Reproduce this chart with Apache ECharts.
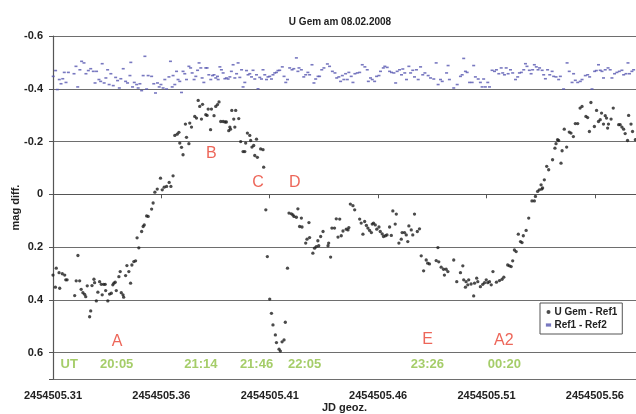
<!DOCTYPE html>
<html>
<head>
<meta charset="utf-8">
<script src="https://cdn.jsdelivr.net/npm/echarts@6/dist/echarts.min.js"></script>
<style>
html,body{margin:0;padding:0;background:#fff;}
#chart{width:636px;height:414px;}
</style>
</head>
<body>
<div id="chart"></div>
<script>
// ---- data ----
const JD0 = 2454505;
const titleText = 'U Gem am 08.02.2008';
const xName = 'JD geoz.';
const yName = 'mag diff.';
const seriesNames = ['U Gem - Ref1', 'Ref1 - Ref2'];

// U Gem - Ref1 (fraction of JD, magnitude difference)
const gemFrac = [
0.3100,0.3111,0.3115,0.3128,0.3131,0.3143,0.3154,0.3159,0.3165,0.3200,
0.3207,0.3215,0.3223,0.3230,0.3238,0.3246,0.3251,0.3258,0.3269,0.3274,
0.3280,0.3289,0.3292,0.3300,0.3307,0.3315,0.3323,0.3327,0.3334,0.3341,
0.3343,0.3353,0.3361,0.3369,0.3376,0.3381,0.3387,0.3392,0.3404,0.3410,
0.3415,0.3423,0.3426,0.3435,0.3441,0.3450,0.3458,0.3464,0.3473,0.3481,
0.3488,0.3496,0.3509,0.3516,0.3521,0.3532,0.3539,0.3555,0.3562,0.3570,
0.3581,0.3596,0.3604,0.3613,0.3624,0.3636,0.3644,0.3654,0.3662,0.3673,
0.3681,0.3685,0.3693,0.3700,0.3711,0.3716,0.3727,0.3731,0.3739,0.3754,
0.3762,0.3770,0.3777,0.3785,0.3790,0.3805,0.3811,0.3816,0.3827,0.3831,
0.3843,0.3851,0.3859,0.3866,0.3874,0.3885,0.3894,0.3900,0.3911,0.3916,
0.3919,0.3925,0.3934,0.3939,0.3943,0.3957,0.3966,0.3977,0.3985,0.3989,
0.3997,0.4008,0.4012,0.4018,0.4026,0.4031,0.4039,0.4043,0.4058,0.4069,
0.4072,0.4082,0.4089,0.4100,0.4108,0.4115,0.4126,0.4131,0.4143,0.4149,
0.4157,0.4166,0.4172,0.4182,0.4189,0.4200,0.4207,0.4212,0.4223,0.4230,
0.4238,0.4246,0.4249,0.4266,0.4272,0.4281,0.4284,0.4299,0.4307,0.4315,
0.4322,0.4326,0.4335,0.4346,0.4369,0.4372,0.4381,0.4387,0.4399,0.4407,
0.4415,0.4423,0.4430,0.4438,0.4453,0.4461,0.4465,0.4472,0.4484,0.4492,
0.4515,0.4522,0.4530,0.4538,0.4546,0.4553,0.4561,0.4569,0.4573,0.4579,
0.4587,0.4594,0.4604,0.4610,0.4619,0.4625,0.4634,0.4641,0.4653,0.4661,
0.4668,0.4679,0.4684,0.4696,0.4707,0.4711,0.4722,0.4730,0.4737,0.4742,
0.4753,0.4760,0.4768,0.4781,0.4791,0.4799,0.4810,0.4822,0.4829,0.4837,
0.4868,0.4876,0.4880,0.4891,0.4902,0.4906,0.4914,0.4922,0.4949,0.4963,
0.4980,0.4991,0.4995,0.5003,0.5006,0.5014,0.5018,0.5029,0.5041,0.5045,
0.5055,0.5060,0.5072,0.5083,0.5091,0.5099,0.5106,0.5114,0.5122,0.5130,
0.5146,0.5160,0.5172,0.5180,0.5198,0.5206,0.5214,0.5221,0.5229,0.5237,
0.5247,0.5257,0.5264,0.5270,0.5283,0.5295,0.5310,0.5321,0.5326,0.5336,
0.5344,0.5352,0.5355,0.5359,0.5367,0.5378,0.5387,0.5405,0.5416,0.5421,
0.5428,0.5433,0.5444,0.5449,0.5459,0.5470,0.5482,0.5490,0.5501,0.5510,
0.5521,0.5532,0.5541,0.5559,0.5567,0.5575,0.5582,0.5598,0.5608,0.5617,
0.5625,0.5631,0.5640,0.5648,0.5654,0.5659,0.5663,0.5675,0.5685,0.5710,
0.5717,0.5725,0.5733,0.5740,0.5751,0.5756,0.5767,0.5774,0.5787
];
const gemMag = [
0.306,0.352,0.280,0.297,0.356,0.301,0.306,0.324,0.324,0.384,
0.328,0.232,0.328,0.360,0.373,0.379,0.388,0.347,0.464,0.442,
0.346,0.322,0.335,0.404,0.371,0.331,0.341,0.381,0.341,0.341,
0.365,0.404,0.378,0.375,0.343,0.337,0.333,0.365,0.312,0.293,
0.373,0.381,0.390,0.308,0.270,0.293,0.337,0.268,0.255,0.252,
0.165,0.203,0.141,0.122,0.116,0.082,0.084,0.056,0.033,-0.008,
-0.020,-0.061,-0.017,-0.027,-0.030,-0.045,-0.030,-0.070,-0.223,-0.228,
-0.235,-0.194,-0.178,-0.150,-0.266,-0.216,-0.192,-0.270,-0.255,-0.295,
-0.289,-0.356,-0.333,-0.285,-0.341,-0.302,-0.299,-0.323,-0.245,-0.323,
-0.298,-0.333,-0.340,-0.350,-0.276,-0.276,-0.274,-0.274,-0.241,-0.255,
-0.247,-0.318,-0.285,-0.255,-0.318,-0.287,-0.200,-0.162,-0.162,-0.194,
-0.232,-0.223,-0.204,-0.179,-0.185,-0.147,-0.209,-0.140,-0.172,-0.169,
-0.103,0.059,0.236,0.397,0.451,0.495,0.533,0.562,0.587,0.594,
0.559,0.552,0.485,0.280,0.071,0.074,0.078,0.084,0.087,0.055,
0.122,0.090,0.124,0.185,0.170,0.107,0.164,0.223,0.204,0.198,
0.176,0.195,0.160,0.141,0.195,0.185,0.238,0.128,0.128,0.093,
0.162,0.094,0.157,0.139,0.132,0.135,0.126,0.037,0.043,0.059,
0.094,0.109,0.151,0.103,0.118,0.128,0.137,0.145,0.113,0.109,
0.116,0.132,0.124,0.141,0.150,0.160,0.157,0.154,0.124,0.156,
0.063,0.113,0.075,0.185,0.170,0.145,0.145,0.154,0.179,0.120,
0.135,0.154,0.075,0.141,0.131,0.233,0.290,0.249,0.261,0.264,
0.251,0.202,0.256,0.276,0.284,0.306,0.284,0.293,0.249,0.331,
0.297,0.271,0.324,0.352,0.331,0.343,0.324,0.340,0.385,0.337,
0.318,0.331,0.350,0.341,0.335,0.324,0.335,0.331,0.343,0.293,
0.333,0.327,0.322,0.314,0.268,0.271,0.274,0.252,0.211,0.217,
0.151,0.179,0.183,0.157,0.137,0.090,0.025,0.025,0.008,-0.011,
-0.017,-0.036,-0.020,-0.024,-0.055,-0.106,-0.093,-0.131,-0.175,-0.192,
-0.207,-0.204,-0.118,-0.165,-0.247,-0.179,-0.236,-0.232,-0.219,-0.268,
-0.268,-0.327,-0.333,-0.295,-0.291,-0.238,-0.348,-0.257,-0.318,-0.276,
-0.283,-0.308,-0.266,-0.298,-0.289,-0.251,-0.266,-0.285,-0.327,-0.264,
-0.264,-0.255,-0.247,-0.230,-0.204,-0.299,-0.266,-0.238,-0.207
];

// Ref1 - Ref2
const refFrac = [
0.3101,0.3112,0.3120,0.3129,0.3137,0.3145,0.3152,0.3160,0.3171,0.3197,
0.3206,0.3214,0.3224,0.3232,0.3243,0.3252,0.3263,0.3274,0.3286,0.3294,
0.3301,0.3312,0.3320,0.3327,0.3336,0.3344,0.3352,0.3359,0.3367,0.3378,
0.3389,0.3398,0.3406,0.3413,0.3424,0.3435,0.3444,0.3455,0.3459,0.3467,
0.3475,0.3486,0.3493,0.3501,0.3509,0.3516,0.3524,0.3532,0.3539,0.3555,
0.3565,0.3573,0.3582,0.3590,0.3598,0.3608,0.3616,0.3624,0.3635,0.3642,
0.3650,0.3654,0.3662,0.3670,0.3677,0.3685,0.3693,0.3700,0.3708,0.3716,
0.3727,0.3735,0.3742,0.3751,0.3759,0.3767,0.3774,0.3782,0.3788,0.3796,
0.3805,0.3811,0.3819,0.3828,0.3836,0.3843,0.3851,0.3859,0.3862,0.3870,
0.3877,0.3885,0.3893,0.3900,0.3908,0.3916,0.3923,0.3931,0.3939,0.3947,
0.3954,0.3962,0.3970,0.3977,0.3985,0.3993,0.4000,0.4008,0.4016,0.4023,
0.4031,0.4039,0.4046,0.4054,0.4062,0.4069,0.4077,0.4085,0.4092,0.4100,
0.4108,0.4115,0.4123,0.4131,0.4138,0.4146,0.4158,0.4166,0.4174,0.4182,
0.4192,0.4203,0.4211,0.4223,0.4230,0.4235,0.4246,0.4257,0.4266,0.4276,
0.4284,0.4295,0.4304,0.4312,0.4323,0.4330,0.4340,0.4350,0.4366,0.4376,
0.4389,0.4401,0.4409,0.4419,0.4427,0.4435,0.4442,0.4450,0.4458,0.4465,
0.4476,0.4484,0.4493,0.4504,0.4515,0.4527,0.4539,0.4550,0.4555,0.4565,
0.4573,0.4584,0.4593,0.4604,0.4611,0.4624,0.4631,0.4642,0.4653,0.4662,
0.4673,0.4681,0.4688,0.4699,0.4708,0.4714,0.4723,0.4731,0.4742,0.4750,
0.4760,0.4768,0.4777,0.4785,0.4796,0.4806,0.4816,0.4831,0.4842,0.4857,
0.4868,0.4877,0.4888,0.4896,0.4916,0.4923,0.4929,0.4949,0.4965,0.4980,
0.4988,0.4995,0.5003,0.5011,0.5022,0.5034,0.5041,0.5049,0.5062,0.5072,
0.5080,0.5087,0.5095,0.5106,0.5114,0.5126,0.5137,0.5146,0.5157,0.5168,
0.5175,0.5183,0.5191,0.5200,0.5211,0.5221,0.5234,0.5244,0.5252,0.5261,
0.5272,0.5280,0.5287,0.5298,0.5306,0.5313,0.5321,0.5330,0.5338,0.5345,
0.5357,0.5364,0.5372,0.5382,0.5392,0.5403,0.5410,0.5421,0.5433,0.5441,
0.5456,0.5472,0.5482,0.5495,0.5502,0.5510,0.5521,0.5533,0.5541,0.5556,
0.5567,0.5576,0.5587,0.5599,0.5607,0.5617,0.5625,0.5633,0.5640,0.5648,
0.5661,0.5671,0.5679,0.5691,0.5702,0.5713,0.5725,0.5733,0.5744,0.5753,
0.5760,0.5771,0.5779
];
const refMag = [
-0.447,-0.469,-0.397,-0.435,-0.419,-0.438,-0.462,-0.424,-0.462,-0.457,
-0.485,-0.407,-0.472,-0.504,-0.498,-0.457,-0.469,-0.476,-0.466,-0.422,
-0.466,-0.435,-0.428,-0.495,-0.422,-0.441,-0.472,-0.416,-0.457,-0.412,
-0.443,-0.431,-0.403,-0.438,-0.476,-0.428,-0.422,-0.450,-0.500,-0.407,
-0.424,-0.416,-0.403,-0.419,-0.393,-0.450,-0.523,-0.399,-0.450,-0.447,
-0.419,-0.384,-0.422,-0.407,-0.416,-0.403,-0.435,-0.399,-0.445,-0.504,
-0.407,-0.450,-0.416,-0.466,-0.435,-0.428,-0.386,-0.466,-0.457,-0.435,
-0.485,-0.479,-0.460,-0.435,-0.447,-0.470,-0.498,-0.479,-0.441,-0.424,
-0.479,-0.479,-0.453,-0.435,-0.450,-0.453,-0.441,-0.447,-0.435,-0.483,
-0.472,-0.460,-0.438,-0.441,-0.437,-0.445,-0.466,-0.491,-0.441,-0.457,
-0.498,-0.443,-0.472,-0.407,-0.424,-0.469,-0.453,-0.457,-0.445,-0.470,
-0.437,-0.453,-0.400,-0.443,-0.437,-0.472,-0.453,-0.435,-0.445,-0.447,
-0.437,-0.453,-0.460,-0.462,-0.469,-0.470,-0.483,-0.447,-0.424,-0.435,
-0.479,-0.472,-0.476,-0.517,-0.466,-0.479,-0.472,-0.445,-0.453,-0.462,
-0.453,-0.491,-0.422,-0.437,-0.447,-0.447,-0.472,-0.479,-0.494,-0.485,
-0.466,-0.460,-0.441,-0.445,-0.428,-0.450,-0.435,-0.457,-0.435,-0.462,
-0.447,-0.424,-0.457,-0.460,-0.462,-0.491,-0.483,-0.472,-0.428,-0.441,
-0.435,-0.428,-0.447,-0.450,-0.466,-0.479,-0.485,-0.481,-0.466,-0.462,
-0.460,-0.422,-0.466,-0.472,-0.453,-0.475,-0.460,-0.435,-0.485,-0.460,
-0.470,-0.445,-0.472,-0.435,-0.483,-0.453,-0.460,-0.450,-0.441,-0.437,
-0.498,-0.416,-0.435,-0.428,-0.460,-0.488,-0.435,-0.403,-0.416,-0.447,
-0.453,-0.515,-0.466,-0.462,-0.424,-0.424,-0.488,-0.445,-0.437,-0.424,
-0.407,-0.437,-0.407,-0.424,-0.407,-0.470,-0.466,-0.472,-0.457,-0.479,
-0.460,-0.453,-0.479,-0.457,-0.472,-0.460,-0.435,-0.445,-0.460,-0.462,
-0.472,-0.495,-0.485,-0.470,-0.457,-0.472,-0.491,-0.483,-0.472,-0.479,
-0.470,-0.453,-0.438,-0.472,-0.453,-0.466,-0.447,-0.445,-0.435,-0.447,
-0.399,-0.498,-0.466,-0.424,-0.457,-0.432,-0.424,-0.428,-0.435,-0.450,
-0.453,-0.445,-0.399,-0.466,-0.469,-0.491,-0.470,-0.466,-0.441,-0.472,
-0.479,-0.472,-0.441,-0.457,-0.462,-0.466,-0.470,-0.453,-0.457,-0.498,
-0.457,-0.466,-0.472
];

// phase letters (red) and UT times (green), anchored in data coordinates
const phaseText = ['A', 'B', 'C', 'D', 'E', 'A2'];
const phaseFrac = [0.3396, 0.3831, 0.4046, 0.4215, 0.4828, 0.5180];
const phaseMag  = [0.559, -0.156, -0.045, -0.045, 0.552, 0.555];
const timeText = ['UT', '20:05', '21:14', '21:46', '22:05', '23:26', '00:20'];
const timeFrac = [0.3175, 0.3394, 0.3782, 0.4039, 0.4261, 0.4827, 0.5183];
const timeMag  = [0.644, 0.644, 0.644, 0.644, 0.644, 0.644, 0.644];

// axis settings
const xMinFrac = 0.31, xMaxFrac = 0.579, xStep = 0.05;
const yMin = -0.6, yMax = 0.7, yStep = 0.2;

// ---- chart ----
const FONT = "'Liberation Sans', Arial, sans-serif";
const pts = (fr, mg) => fr.map((f, i) => [JD0 + f, mg[i]]);
const labelPts = (tx, fr, mg) => tx.map((t, i) => ({ name: t, value: [JD0 + fr[i], mg[i]] }));

const chart = echarts.init(document.getElementById('chart'), null, { renderer: 'canvas' });
chart.setOption({
  backgroundColor: '#ffffff',
  animation: false,
  textStyle: { fontFamily: FONT },
  title: {
    text: titleText,
    left: 335, top: 12, textAlign: 'center',
    textStyle: { fontFamily: FONT, fontSize: 10, fontWeight: 'bold', color: '#222' }
  },
  legend: {
    orient: 'vertical',
    left: 540, top: 303,
    backgroundColor: '#ffffff',
    borderColor: '#555', borderWidth: 1, borderRadius: 0,
    padding: [4, 5, 4, 5],
    itemGap: 3, itemWidth: 6, itemHeight: 4,
    textStyle: { fontFamily: FONT, fontSize: 10, fontWeight: 'bold', color: '#222', padding: [0, 0, 0, -2] },
    data: [
      { name: seriesNames[0], icon: 'circle' },
      { name: seriesNames[1], icon: 'rect', itemStyle: { borderColor: '#fff', borderWidth: 1 } }
    ],
    z: 10
  },
  grid: { left: 53, right: 0, top: 36, bottom: 35, containLabel: false, outerBoundsMode: 'none' },
  xAxis: {
    type: 'value',
    min: JD0 + xMinFrac, max: JD0 + xMaxFrac, interval: xStep,
    name: xName, nameLocation: 'middle', nameGap: 23, nameMoveOverlap: false,
    nameTextStyle: { fontFamily: FONT, fontSize: 11, fontWeight: 'bold', color: '#222' },
    axisLine: { show: true, lineStyle: { color: '#555', width: 1.2 } },
    axisTick: { show: true, length: 4, lineStyle: { color: '#555' } },
    splitLine: { show: false },
    axisLabel: {
      showMaxLabel: false, margin: 11,
      fontFamily: FONT, fontSize: 11, fontWeight: 'bold', color: '#222',
      formatter: v => v.toFixed(2)
    }
  },
  yAxis: {
    type: 'value', inverse: true,
    min: yMin, max: yMax, interval: yStep,
    name: yName, nameLocation: 'middle', nameGap: 32, nameMoveOverlap: false,
    nameTextStyle: { fontFamily: FONT, fontSize: 11, fontWeight: 'bold', color: '#222' },
    axisLine: { show: true, lineStyle: { color: '#555', width: 1.2 } },
    axisTick: { show: true, length: 4, lineStyle: { color: '#555' } },
    splitLine: { show: true, lineStyle: { color: '#6e6e6e', width: 1.2 } },
    axisLabel: {
      margin: 10,
      fontFamily: FONT, fontSize: 11, fontWeight: 'bold', color: '#222',
      formatter: v => (Math.abs(v - yMax) < 1e-6 ? '' : (Math.abs(v) < 1e-9 ? '0' : String(Math.round(v * 10) / 10)))
    }
  },
  series: [
    {
      name: seriesNames[0], type: 'scatter',
      data: pts(gemFrac, gemMag),
      symbol: 'circle', symbolSize: 3.3,
      itemStyle: { color: '#1e1e1e' },
      z: 3
    },
    {
      name: seriesNames[1], type: 'scatter',
      data: pts(refFrac, refMag),
      symbol: 'rect', symbolSize: [3, 1.6],
      itemStyle: { color: '#5656b0' },
      z: 2
    },
    {
      name: 'phases', type: 'scatter', silent: true,
      data: labelPts(phaseText, phaseFrac, phaseMag),
      symbolSize: 0, itemStyle: { color: 'rgba(0,0,0,0)' },
      label: {
        show: true, position: 'inside', formatter: p => p.name,
        fontFamily: FONT, fontSize: 16, color: '#e8402f'
      },
      z: 4
    },
    {
      name: 'times', type: 'scatter', silent: true,
      data: labelPts(timeText, timeFrac, timeMag),
      symbolSize: 0, itemStyle: { color: 'rgba(0,0,0,0)' },
      label: {
        show: true, position: 'inside', formatter: p => p.name,
        fontFamily: FONT, fontSize: 13, fontWeight: 'bold', color: '#8fc043'
      },
      z: 4
    }
  ]
});
</script>
</body>
</html>
